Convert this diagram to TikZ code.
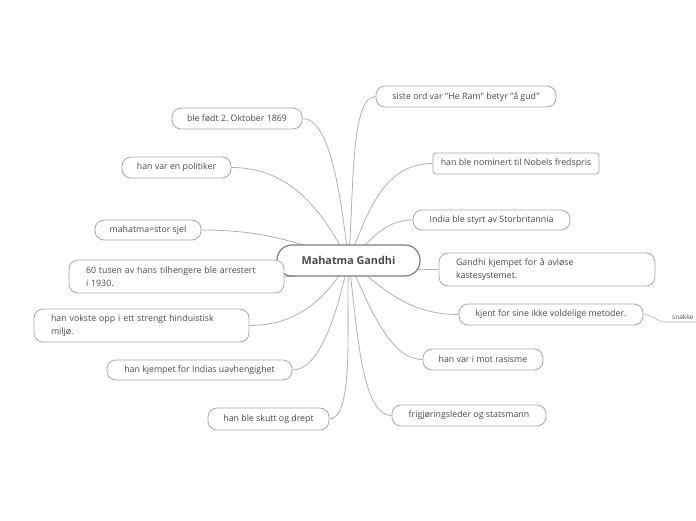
\documentclass[tikz,border=0pt]{standalone}
\usepackage{fontspec}
\setmainfont{Open Sans}[Ligatures=TeXOff]
\usepackage{tikz}
\usetikzlibrary{backgrounds}
\definecolor{txtgrey}{HTML}{4A4A4A}
\definecolor{boxgrey}{HTML}{A8A8A8}
\definecolor{linegrey}{HTML}{B0B0B0}
\definecolor{maingrey}{HTML}{7C7C7C}
\frenchspacing

\begin{document}
\begin{tikzpicture}[
    x=1pt, y=1pt,
    mainnode/.style={draw=maingrey, line width=1.2pt, fill=white, rounded corners=15pt, minimum width=143pt, minimum height=31pt, text=txtgrey, font=\fontsize{10.8}{13}\selectfont\bfseries},
    ideanode/.style={draw=boxgrey, line width=0.8pt, fill=white, rounded corners=9pt, minimum height=21pt, inner xsep=0pt, text=txtgrey, font=\fontsize{8.8}{12.5}\selectfont},
    longnode/.style={ideanode, align=left, inner xsep=17pt, minimum height=33pt},
    subnode/.style={inner xsep=6pt, inner ysep=2pt, text=txtgrey, font=\fontsize{6.5}{8}\selectfont},
    ideaedge/.style={draw=linegrey, line width=0.8pt}
]
\useasboundingbox (0,0) rectangle (696,-520);

% centre
\node[mainnode] (c) at (348.5,-260.5) {Mahatma Gandhi};

% left side
\node[ideanode, minimum width=130pt] (l1) at (237,-118.5) {ble født 2. Oktober 1869};
\node[ideanode, minimum width=109pt] (l2) at (176.5,-167.5) {han var en politiker};
\node[ideanode, minimum width=106pt, minimum height=20pt] (l3) at (148,-230) {mahatma=stor sjel};
\node[longnode, text width=181pt] (l4) at (176.5,-276.5) {60 tusen av hans tilhengere ble arrestert\\ i 1930.};
\node[longnode, text width=181pt] (l5) at (141.5,-325.5) {han vokste opp i ett strengt hinduistisk\\ miljø.};
\node[ideanode, minimum width=185pt, minimum height=20pt] (l6) at (199.5,-370) {han kjempet for Indias uavhengighet};
\node[ideanode, minimum width=121pt, minimum height=22pt] (l7) at (268.5,-419) {han ble skutt og drept};

% right side
\node[ideanode, minimum width=180pt] (r1) at (466,-96.5) {siste ord var "He Ram" betyr "å gud"};
\node[ideanode, minimum width=166pt, rounded corners=3pt] (r2) at (516,-163.5) {han ble nominert til Nobels fredspris};
\node[ideanode, minimum width=157pt, minimum height=20pt] (r3) at (491.5,-220) {India ble styrt av Storbritannia};
\node[longnode, text width=182pt] (r4) at (547,-269.5) {Gandhi kjempet for å avløse\\ kastesystemet.};
\node[ideanode, minimum width=184pt] (r5) at (551,-314.5) {kjent for sine ikke voldelige metoder.};
\node[ideanode, minimum width=120pt] (r6) at (483,-359.5) {han var i mot rasisme};
\node[ideanode, minimum width=154pt] (r7) at (469,-415.5) {frigjøringsleder og statsmann};
\node[subnode, anchor=south west] (s1) at (666,-322) {snakke};

\begin{scope}[on background layer]
\draw[ideaedge] (c.center) to[out=97, in=0, in looseness=0.5] (l1.east);
\draw[ideaedge] (c.center) to[out=118, in=0] (l2.east);
\draw[ideaedge] (c.center) to[out=160, in=0] (l3.east);
\draw[ideaedge] (c.center) to[out=200, in=0] (l4.east);
\draw[ideaedge] (c.center) to[out=240, in=0] (l5.east);
\draw[ideaedge] (c.center) to[out=258, in=0, in looseness=0.6] (l6.east);
\draw[ideaedge] (c.center) to[out=268, in=0, in looseness=0.4] (l7.east);
\draw[ideaedge] (c.center) to[out=85, in=180, in looseness=0.4] (r1.west);
\draw[ideaedge] (c.center) to[out=68, in=180] (r2.west);
\draw[ideaedge] (c.center) to[out=40, in=180] (r3.west);
\draw[ideaedge] (c.center) to[out=-10, in=180] (r4.west);
\draw[ideaedge] (c.center) to[out=-40, in=180] (r5.west);
\draw[ideaedge] (c.center) to[out=-65, in=180, in looseness=0.7] (r6.west);
\draw[ideaedge] (c.center) to[out=-82, in=180, in looseness=0.5] (r7.west);
\draw[ideaedge, line width=0.6pt] (r5.east) to[out=0, in=180] (s1.south west) -- (s1.south east);
\end{scope}
\end{tikzpicture}
\end{document}
